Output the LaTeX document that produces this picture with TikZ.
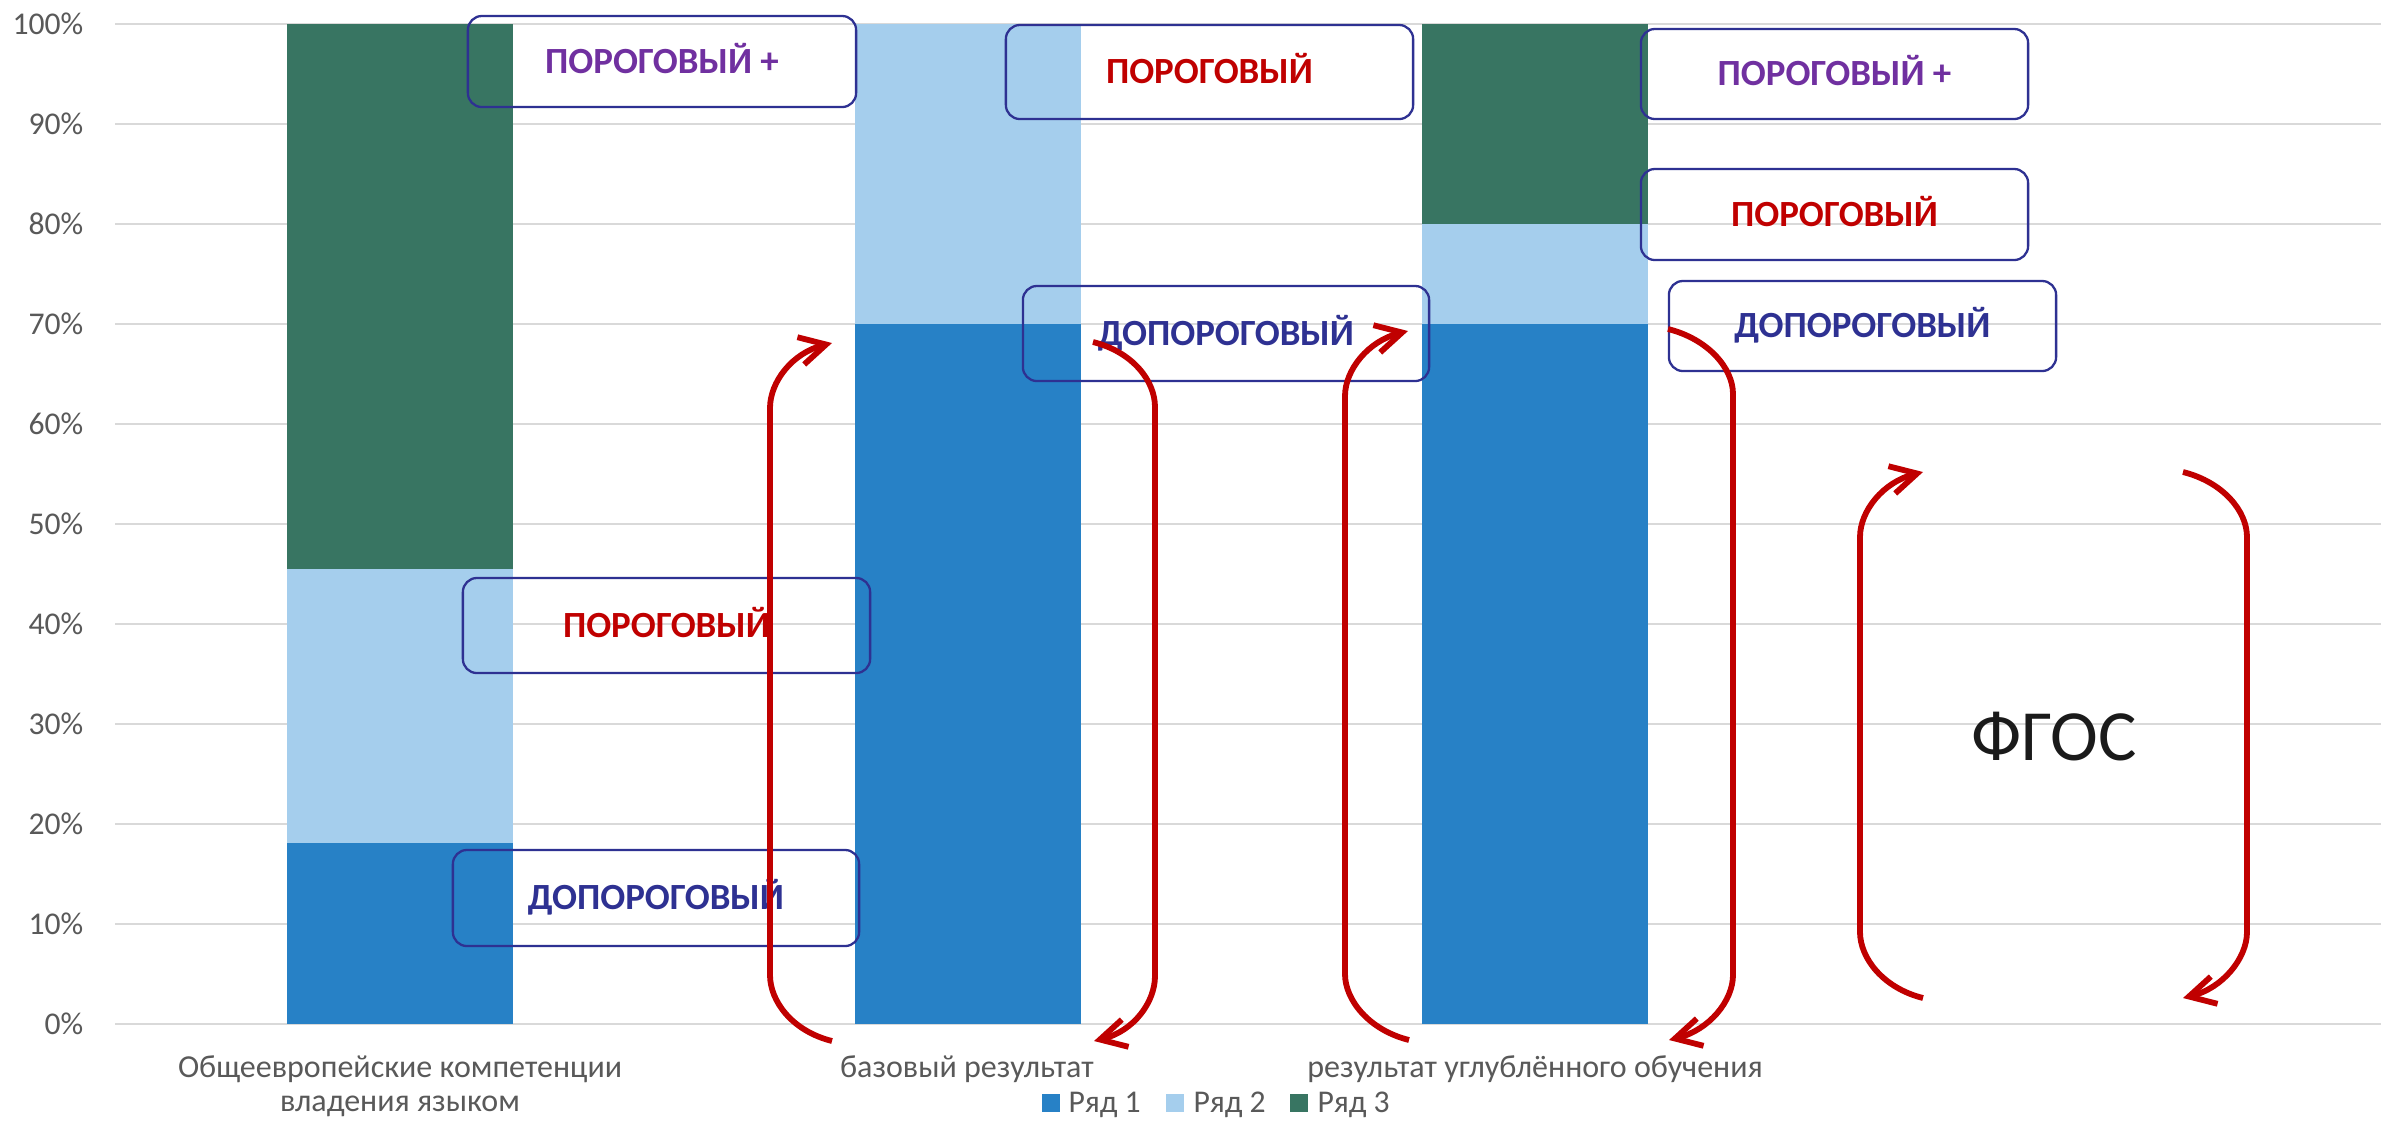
\documentclass[tikz,border=0pt]{standalone}
\usepackage{fontspec}
\setmainfont{Carlito}
\usetikzlibrary{arrows.meta}
\definecolor{barA}{HTML}{2781C6}
\definecolor{barB}{HTML}{A5CEED}
\definecolor{barC}{HTML}{387562}
\definecolor{gridc}{HTML}{D9D9D9}
\definecolor{axc}{HTML}{595959}
\definecolor{boxc}{HTML}{2E3192}
\definecolor{redc}{HTML}{C00000}
\definecolor{purc}{HTML}{7030A0}
\definecolor{navc}{HTML}{2E3192}
\definecolor{fgosc}{HTML}{1A1A1A}
\begin{document}
\begin{tikzpicture}[x=0.01cm,y=-0.01cm,
  gridln/.style={gridc, line width=0.55pt},
  ylab/.style={anchor=base east, text=axc, font=\fontsize{9}{10}\selectfont, inner sep=0pt},
  catlab/.style={anchor=base, text=axc, font=\fontsize{9.1}{10}\selectfont, inner sep=0pt},
  leglab/.style={anchor=base west, text=axc, font=\fontsize{9}{10}\selectfont, inner sep=0pt},
  lvl/.style={draw=boxc, line width=0.65pt, rounded corners=0.14cm, inner sep=0pt,
    font=\fontsize{10.5}{12}\bfseries\selectfont, text height=6.8pt, text depth=0pt},
  plus/.style={lvl, text=purc},
  thr/.style={lvl, text=redc},
  pre/.style={lvl, text=navc},
  brk/.style={redc, line width=1.65pt, -{Straight Barb[length=2.6mm,width=2.8mm]}}
]
\useasboundingbox (0,0) rectangle (2381,1120);
\fill[white] (0,0) rectangle (2381,1120);

% grid and y labels
\foreach \p in {0,...,10}{
  \pgfmathtruncatemacro\v{10*\p}
  \draw[gridln] (115,{1024-100*\p}) -- (2381,{1024-100*\p});
  \node[ylab] (y\p) at (84,{1034-100*\p}) {\v\%};
}

% bars
\fill[barA] (287,1024) rectangle (513,843);
\fill[barB] (287,843) rectangle (513,569);
\fill[barC] (287,569) rectangle (513,24);
\fill[barA] (855,1024) rectangle (1081,324);
\fill[barB] (855,324) rectangle (1081,24);
\fill[barA] (1422,1024) rectangle (1648,324);
\fill[barB] (1422,324) rectangle (1648,224);
\fill[barC] (1422,224) rectangle (1648,24);

% category labels
\node[catlab] (c1) at (400,1077) {Общеевропейские компетенции};
\node[catlab] (c1b) at (400,1111) {владения языком};
\node[catlab] (c2) at (967,1077) {базовый результат};
\node[catlab] (c3) at (1535,1077) {результат углублённого обучения};

% legend
\fill[barA] (1042,1094) rectangle (1060,1112);
\node[leglab] (l1) at (1068,1112) {Ряд 1};
\fill[barB] (1166,1094) rectangle (1184,1112);
\node[leglab] (l2) at (1193,1112) {Ряд 2};
\fill[barC] (1290,1094) rectangle (1308,1112);
\node[leglab] (l3) at (1317,1112) {Ряд 3};

% level boxes
\node[plus, minimum width=3.88cm, minimum height=0.91cm] (b1) at (662,61.5) {ПОРОГОВЫЙ +};
\node[thr,  minimum width=4.07cm, minimum height=0.95cm] (b2) at (666.5,625.5) {ПОРОГОВЫЙ};
\node[pre,  minimum width=4.06cm, minimum height=0.96cm] (b3) at (656,898) {ДОПОРОГОВЫЙ};
\node[thr,  minimum width=4.07cm, minimum height=0.94cm] (b4) at (1209.5,72) {ПОРОГОВЫЙ};
\node[pre,  minimum width=4.06cm, minimum height=0.95cm] (b5) at (1226,333.5) {ДОПОРОГОВЫЙ};
\node[plus, minimum width=3.87cm, minimum height=0.90cm] (b6) at (1834.5,74) {ПОРОГОВЫЙ +};
\node[thr,  minimum width=3.87cm, minimum height=0.91cm] (b7) at (1834.5,214.5) {ПОРОГОВЫЙ};
\node[pre,  minimum width=3.87cm, minimum height=0.90cm] (b8) at (1862.5,326) {ДОПОРОГОВЫЙ};

% ФГОС
\node[text=fgosc, font=\fontsize{20.5}{24}\selectfont, inner sep=0pt, text height=13.2pt, text depth=0pt] (fgos) at (2054,737) {ФГОС};

% bracket end points
\coordinate (A1) at (832,1041); \coordinate (A2) at (832,343);
\coordinate (B1) at (1093,342); \coordinate (B2) at (1094,1041);
\coordinate (C1) at (1409,1040); \coordinate (C2) at (1408,331);
\coordinate (D1) at (1668,329); \coordinate (D2) at (1669,1040);
\coordinate (E1) at (1923,998); \coordinate (E2) at (1923,472);
\coordinate (F1) at (2183,472); \coordinate (F2) at (2183,998);

% left brackets (arrow at top)
\draw[brk] (A1) .. controls +(-40,-10) and +(0,26) .. (770,975) -- (770,408) .. controls +(0,-26) and +(-40,10) .. (A2);
\draw[brk] (C1) .. controls +(-40,-10) and +(0,26) .. (1345,974) -- (1345,396) .. controls +(0,-26) and +(-40,10) .. (C2);
\draw[brk] (E1) .. controls +(-40,-10) and +(0,26) .. (1860,932) -- (1860,537) .. controls +(0,-26) and +(-40,10) .. (E2);
% right brackets (arrow at bottom)
\draw[brk] (B1) .. controls +(40,10) and +(0,-26) .. (1155,407) -- (1155,976) .. controls +(0,26) and +(40,-10) .. (B2);
\draw[brk] (D1) .. controls +(40,10) and +(0,-26) .. (1733,394) -- (1733,975) .. controls +(0,26) and +(40,-10) .. (D2);
\draw[brk] (F1) .. controls +(40,10) and +(0,-26) .. (2247,537) -- (2247,932) .. controls +(0,26) and +(40,-10) .. (F2);
\end{tikzpicture}
\end{document}
